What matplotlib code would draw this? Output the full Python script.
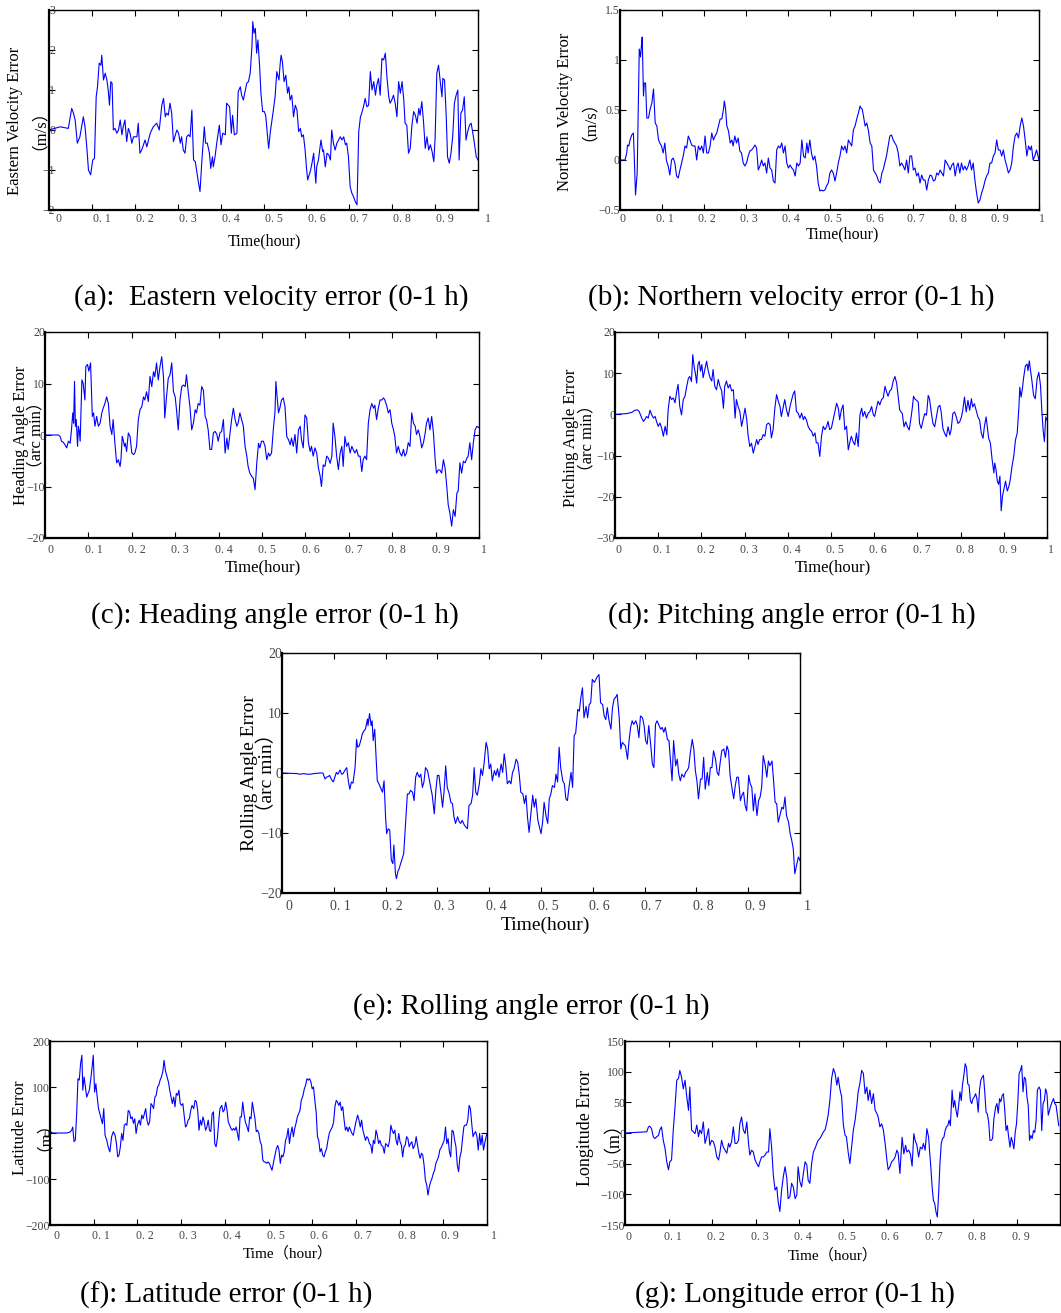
import numpy as np
import matplotlib
matplotlib.use("Agg")
import matplotlib.pyplot as plt
from matplotlib.transforms import ScaledTranslation

# Serif text, CJK font only for the full-width brackets
plt.rcParams['font.family'] = ['Liberation Serif', 'Noto Sans CJK SC', 'DejaVu Sans']

# ---------------- data: (time in hours, error) ----------------
# (a) eastern velocity error, m/s
a_pts = [(0, 0.0), (0.026, 0.08), (0.045, 0.04), (0.053, 0.54), (0.057, 0.42), (0.061, 0.25), (0.066, -0.33),
         (0.072, -0.17), (0.076, 0.08), (0.080, 0.33), (0.084, 0.08), (0.088, -0.42), (0.092, -1.0), (0.097, -1.12),
         (0.102, -0.75), (0.106, -0.71), (0.110, 0.83), (0.113, 1.08), (0.117, 1.67), (0.121, 1.62), (0.123, 1.87),
         (0.127, 1.25), (0.131, 1.42), (0.135, 1.25), (0.138, 1.0), (0.141, 0.62), (0.144, 1.21), (0.147, 1.17),
         (0.150, 0.0), (0.154, 0.04), (0.158, -0.08), (0.162, 0.0), (0.166, 0.25), (0.170, -0.12), (0.173, 0.08),
         (0.177, 0.25), (0.181, -0.29), (0.185, 0.04), (0.189, -0.08), (0.193, -0.33), (0.197, -0.17), (0.205, -0.17),
         (0.208, 0.17), (0.212, -0.58), (0.216, -0.5), (0.224, -0.25), (0.228, -0.42), (0.236, -0.08), (0.243, 0.08),
         (0.251, 0.17), (0.257, 0.0), (0.263, 0.62), (0.267, 0.79), (0.271, 0.33), (0.274, 0.42), (0.278, 0.37),
         (0.282, 0.67), (0.286, 0.42), (0.290, -0.29), (0.298, 0.0), (0.302, -0.08), (0.306, -0.33), (0.309, -0.17),
         (0.313, -0.5), (0.317, -0.58), (0.321, -0.17), (0.325, -0.12), (0.329, -0.17), (0.333, 0.5), (0.337, -0.75),
         (0.341, -0.79), (0.344, -1.0), (0.348, -1.29), (0.352, -1.54), (0.356, -0.83), (0.362, 0.08), (0.365, -0.33),
         (0.369, -0.33), (0.374, -0.58), (0.377, -0.96), (0.381, -0.67), (0.383, -0.92), (0.387, -0.67), (0.391, -0.33),
         (0.397, 0.12), (0.401, -0.37), (0.405, -0.08), (0.411, -0.12), (0.414, 0.67), (0.421, 0.58), (0.425, -0.08),
         (0.428, 0.37), (0.432, -0.12), (0.438, -0.08), (0.441, 0.96), (0.446, 1.08), (0.449, 0.87), (0.453, 0.75),
         (0.457, 0.96), (0.461, 1.17), (0.465, 1.21), (0.469, 1.42), (0.473, 2.08), (0.475, 2.71), (0.478, 2.42),
         (0.481, 2.54), (0.484, 1.92), (0.487, 2.25), (0.491, 1.58), (0.494, 0.92), (0.498, 0.46), (0.502, 0.46),
         (0.505, 0.37), (0.512, -0.46), (0.516, -0.04), (0.522, 0.42), (0.527, 0.83), (0.531, 1.46), (0.536, 1.25),
         (0.539, 1.67), (0.541, 1.87), (0.544, 1.71), (0.548, 1.21), (0.552, 1.37), (0.556, 0.92), (0.559, 1.08),
         (0.562, 0.75), (0.566, 0.87), (0.570, 0.33), (0.574, 0.62), (0.578, 0.5), (0.582, -0.04), (0.586, 0.04),
         (0.589, -0.17), (0.593, -0.12), (0.597, -0.5), (0.600, -0.92), (0.603, -1.25), (0.605, -1.17), (0.609, -1.04),
         (0.613, -0.83), (0.617, -0.58), (0.619, -0.92), (0.622, -1.33), (0.624, -0.92), (0.628, -0.75), (0.634, -0.25),
         (0.638, -0.54), (0.640, -0.5), (0.644, -0.92), (0.648, -0.58), (0.652, -0.62), (0.656, -0.75), (0.659, 0.0),
         (0.663, -0.33), (0.667, -0.5), (0.671, -0.33), (0.675, -0.25), (0.679, -0.17), (0.683, -0.25), (0.687, -0.17),
         (0.691, -0.37), (0.694, -0.33), (0.698, -0.67), (0.702, -1.42), (0.706, -1.58), (0.710, -1.67), (0.714, -1.79),
         (0.718, -1.87), (0.722, -0.04), (0.726, 0.33), (0.729, 0.42), (0.733, 0.58), (0.737, 0.79), (0.741, 0.58),
         (0.745, 0.62), (0.749, 1.46), (0.753, 1.0), (0.757, 1.21), (0.761, 0.87), (0.764, 1.12), (0.768, 1.29),
         (0.772, 0.87), (0.776, 1.79), (0.780, 1.75), (0.784, 1.92), (0.788, 1.29), (0.792, 0.83), (0.795, 0.67),
         (0.799, 0.75), (0.803, 0.87), (0.807, 0.67), (0.811, 0.33), (0.815, 1.21), (0.819, 0.92), (0.823, 1.21),
         (0.827, 0.75), (0.830, 0.17), (0.834, 0.12), (0.838, -0.58), (0.842, -0.46), (0.846, 0.12), (0.850, 0.46),
         (0.854, 0.37), (0.858, 0.17), (0.862, 0.54), (0.865, 0.37), (0.869, 0.71), (0.873, 0.21), (0.877, -0.46),
         (0.881, -0.17), (0.885, -0.5), (0.889, -0.37), (0.893, -0.54), (0.897, -0.79), (0.900, -0.21), (0.904, 1.42),
         (0.908, 1.62), (0.912, 1.21), (0.916, 0.83), (0.918, 1.29), (0.922, 1.25), (0.926, 0.33), (0.929, -0.67),
         (0.933, -0.83), (0.937, -0.58), (0.941, -0.17), (0.945, 0.67), (0.949, 0.87), (0.953, 1.0), (0.956, -0.75),
         (0.960, 0.42), (0.964, 0.5), (0.968, 0.83), (0.972, -0.25), (0.976, -0.04), (0.980, 0.12), (0.984, 0.17),
         (0.988, -0.08), (0.991, -0.29), (0.996, -0.67), (1.0, -0.75)]

# (b) northern velocity error, m/s
b_pts = [(0, 0.0), (0.012, 0.0), (0.016, 0.07), (0.018, 0.15), (0.021, 0.14), (0.024, 0.2), (0.028, 0.25),
         (0.032, 0.27), (0.034, 0.04), (0.037, -0.35), (0.041, -0.13), (0.044, 0.61), (0.046, 1.11), (0.049, 1.03),
         (0.051, 1.14), (0.053, 1.23), (0.056, 0.64), (0.058, 0.77), (0.061, 0.77), (0.064, 0.42), (0.068, 0.42),
         (0.072, 0.51), (0.076, 0.57), (0.080, 0.71), (0.084, 0.37), (0.088, 0.34), (0.092, 0.2), (0.095, 0.17),
         (0.099, 0.14), (0.103, 0.07), (0.107, 0.17), (0.111, -0.01), (0.115, -0.06), (0.119, -0.15), (0.123, 0.0),
         (0.127, 0.02), (0.131, -0.03), (0.135, -0.16), (0.139, -0.18), (0.143, -0.1), (0.147, -0.03), (0.151, 0.04),
         (0.155, 0.14), (0.159, 0.12), (0.163, 0.24), (0.167, 0.2), (0.171, 0.15), (0.175, 0.14), (0.179, 0.14),
         (0.183, 0.0), (0.187, 0.14), (0.191, 0.1), (0.195, 0.14), (0.199, 0.07), (0.203, 0.24), (0.207, 0.07),
         (0.211, 0.07), (0.215, 0.14), (0.219, 0.27), (0.223, 0.2), (0.227, 0.24), (0.231, 0.27), (0.235, 0.34),
         (0.239, 0.41), (0.243, 0.41), (0.247, 0.51), (0.249, 0.59), (0.252, 0.51), (0.255, 0.34), (0.259, 0.29),
         (0.263, 0.17), (0.267, 0.2), (0.270, 0.14), (0.274, 0.24), (0.278, 0.17), (0.282, 0.22), (0.286, 0.09),
         (0.290, 0.07), (0.294, -0.03), (0.298, -0.06), (0.302, -0.03), (0.306, 0.04), (0.310, 0.09), (0.314, 0.1),
         (0.318, 0.12), (0.322, 0.15), (0.326, 0.12), (0.330, -0.1), (0.334, -0.06), (0.338, 0.0), (0.342, -0.06),
         (0.346, -0.03), (0.350, -0.13), (0.354, 0.02), (0.358, -0.08), (0.362, -0.1), (0.366, -0.21), (0.370, -0.23),
         (0.374, 0.1), (0.378, 0.14), (0.382, 0.12), (0.386, 0.17), (0.390, 0.07), (0.394, 0.14), (0.398, -0.03),
         (0.402, -0.08), (0.406, -0.05), (0.410, -0.08), (0.414, -0.1), (0.418, -0.16), (0.422, -0.03), (0.426, -0.06),
         (0.430, -0.03), (0.434, 0.2), (0.438, 0.04), (0.442, 0.02), (0.446, 0.17), (0.449, 0.07), (0.453, 0.2),
         (0.457, 0.07), (0.461, 0.0), (0.465, 0.04), (0.469, -0.06), (0.473, -0.23), (0.477, -0.31), (0.481, -0.3),
         (0.485, -0.31), (0.489, -0.3), (0.493, -0.26), (0.497, -0.23), (0.501, -0.13), (0.505, -0.1), (0.509, -0.13),
         (0.513, -0.21), (0.517, -0.13), (0.521, -0.03), (0.525, 0.04), (0.529, 0.14), (0.533, 0.1), (0.537, 0.14),
         (0.541, 0.07), (0.545, 0.2), (0.549, 0.17), (0.553, 0.14), (0.557, 0.3), (0.561, 0.34), (0.565, 0.41),
         (0.569, 0.47), (0.573, 0.54), (0.575, 0.52), (0.578, 0.51), (0.581, 0.44), (0.585, 0.34), (0.589, 0.37),
         (0.593, 0.29), (0.597, 0.17), (0.601, 0.14), (0.605, -0.1), (0.609, -0.13), (0.613, -0.16), (0.617, -0.21),
         (0.621, -0.23), (0.625, -0.13), (0.628, -0.1), (0.632, -0.03), (0.636, 0.04), (0.640, 0.14), (0.644, 0.24),
         (0.648, 0.25), (0.652, 0.2), (0.656, 0.17), (0.660, 0.14), (0.664, 0.07), (0.668, -0.06), (0.672, -0.03),
         (0.676, -0.06), (0.680, -0.1), (0.684, 0.0), (0.688, -0.13), (0.692, 0.04), (0.696, 0.04), (0.700, -0.1),
         (0.704, -0.08), (0.708, -0.16), (0.712, -0.13), (0.716, -0.23), (0.720, -0.15), (0.724, -0.2), (0.728, -0.2),
         (0.732, -0.3), (0.736, -0.2), (0.740, -0.15), (0.744, -0.16), (0.748, -0.21), (0.752, -0.2), (0.756, -0.13),
         (0.760, -0.15), (0.764, -0.1), (0.768, -0.13), (0.772, -0.16), (0.776, 0.0), (0.780, -0.03), (0.784, -0.06),
         (0.788, -0.1), (0.792, -0.05), (0.796, -0.03), (0.800, -0.16), (0.804, -0.06), (0.807, -0.03), (0.811, -0.13),
         (0.815, -0.03), (0.819, -0.1), (0.823, -0.06), (0.827, -0.1), (0.831, -0.06), (0.835, 0.0), (0.839, -0.1),
         (0.843, -0.03), (0.847, -0.2), (0.851, -0.33), (0.855, -0.43), (0.859, -0.4), (0.863, -0.33), (0.867, -0.28),
         (0.871, -0.21), (0.875, -0.16), (0.879, -0.13), (0.883, -0.03), (0.887, -0.03), (0.891, 0.04), (0.895, 0.07),
         (0.899, 0.2), (0.903, 0.1), (0.907, 0.1), (0.911, 0.04), (0.915, 0.1), (0.919, 0.0), (0.923, -0.06),
         (0.927, -0.13), (0.931, -0.1), (0.935, -0.03), (0.939, 0.14), (0.943, 0.24), (0.947, 0.27), (0.951, 0.22),
         (0.955, 0.34), (0.959, 0.42), (0.963, 0.34), (0.967, 0.2), (0.971, 0.04), (0.975, 0.14), (0.979, 0.1),
         (0.982, 0.14), (0.986, 0.0), (0.990, 0.04), (0.994, 0.1), (1.0, 0.0)]

# (c) heading angle error, arc min
c_pts = [(0, 0), (0.031, 0), (0.035, -0.3), (0.038, -1.2), (0.042, -1.4), (0.046, -1.9), (0.050, -2.5), (0.054, -1.2),
         (0.058, -1.6), (0.061, 1.0), (0.064, 4.3), (0.066, 2.3), (0.068, 10.4), (0.070, 1.7), (0.072, 3.0),
         (0.075, -2.2), (0.077, 1.7), (0.079, 0.7), (0.081, -1.2), (0.085, 10.7), (0.088, 10.0), (0.092, 6.8),
         (0.094, 13.3), (0.098, 13.7), (0.101, 12.4), (0.105, 14.0), (0.109, 3.6), (0.112, 4.3), (0.115, 1.7),
         (0.119, 3.6), (0.123, 1.7), (0.127, 2.3), (0.131, 4.3), (0.134, 5.2), (0.138, 6.1), (0.142, 7.4), (0.146, 6.1),
         (0.150, 1.7), (0.154, 0.1), (0.157, 3.0), (0.161, -1.5), (0.165, -5.4), (0.169, -4.8), (0.173, -6.1),
         (0.175, -4.8), (0.178, -0.3), (0.180, -0.9), (0.183, -2.2), (0.185, -1.6), (0.188, -3.2), (0.192, 0.4),
         (0.196, -0.3), (0.200, -3.5), (0.204, -3.8), (0.207, -3.5), (0.211, -2.2), (0.215, 3.0), (0.219, 4.9),
         (0.223, 5.5), (0.227, 7.4), (0.230, 6.8), (0.234, 8.4), (0.238, 6.5), (0.242, 11.4), (0.246, 9.4), (0.250, 12.3),
         (0.253, 11.3), (0.257, 14.0), (0.261, 10.7), (0.265, 13.3), (0.269, 15.2), (0.273, 11.3), (0.276, 3.3),
         (0.280, 7.4), (0.284, 11.0), (0.288, 11.7), (0.292, 14.0), (0.296, 8.4), (0.300, 7.4), (0.303, 4.9),
         (0.307, 1.0), (0.311, 6.8), (0.315, 9.4), (0.319, 9.7), (0.323, 9.4), (0.326, 11.7), (0.330, 8.4), (0.334, 5.5),
         (0.338, 1.0), (0.342, 2.3), (0.346, 4.9), (0.349, 4.3), (0.353, 6.1), (0.357, 5.8), (0.361, 9.4), (0.365, 8.7),
         (0.369, 3.6), (0.372, 3.0), (0.376, 1.0), (0.380, -2.8), (0.384, -2.8), (0.388, 0.4), (0.392, 0.7),
         (0.396, 0.1), (0.399, -1.2), (0.403, 0.4), (0.407, 0.7), (0.411, 3.0), (0.415, -3.5), (0.419, -0.6),
         (0.422, -2.8), (0.426, 0.1), (0.430, 3.0), (0.434, 5.2), (0.438, 3.0), (0.442, 1.7), (0.445, 2.3), (0.449, 4.3),
         (0.453, 3.0), (0.457, 1.7), (0.461, -2.2), (0.465, -4.1), (0.468, -6.1), (0.472, -7.4), (0.476, -8.0),
         (0.480, -8.4), (0.484, -10.6), (0.488, -5.4), (0.492, -1.6), (0.495, -2.5), (0.499, -1.2), (0.503, -1.2),
         (0.507, -2.2), (0.511, -4.8), (0.515, -3.5), (0.518, -4.1), (0.522, -3.5), (0.526, 1.0), (0.530, 4.6),
         (0.532, 10.4), (0.535, 7.2), (0.538, 4.3), (0.541, 5.2), (0.545, 6.8), (0.549, 7.2), (0.553, 5.5),
         (0.557, -0.3), (0.561, -0.9), (0.565, -1.9), (0.568, -0.6), (0.572, -2.2), (0.576, 0.1), (0.580, -3.5),
         (0.584, 1.0), (0.588, 1.7), (0.591, -0.9), (0.595, -2.5), (0.599, 3.9), (0.603, 3.3), (0.607, -1.5),
         (0.611, -3.2), (0.614, -2.2), (0.618, -4.1), (0.622, -2.5), (0.626, -3.5), (0.630, -6.4), (0.634, -8.0),
         (0.637, -10.0), (0.641, -5.8), (0.645, -6.1), (0.649, -4.1), (0.653, -4.5), (0.657, -5.5), (0.661, -4.1),
         (0.664, 2.3), (0.668, -0.3), (0.672, -4.1), (0.676, -6.7), (0.680, -3.5), (0.684, -2.2), (0.687, -6.1),
         (0.691, -0.3), (0.695, -2.2), (0.699, -1.5), (0.703, -3.5), (0.707, -2.2), (0.710, -2.8), (0.714, -3.5),
         (0.718, -2.8), (0.722, -4.1), (0.726, -4.1), (0.730, -7.1), (0.733, -4.8), (0.737, -4.1), (0.741, -4.8),
         (0.745, 2.3), (0.749, 4.9), (0.753, 6.1), (0.757, 5.2), (0.760, 5.8), (0.764, 3.0), (0.768, 5.2), (0.772, 6.8),
         (0.776, 6.8), (0.780, 7.2), (0.783, 6.8), (0.787, 5.8), (0.791, 4.3), (0.795, 4.9), (0.799, 2.3), (0.803, 1.0),
         (0.806, -0.3), (0.810, -3.5), (0.814, -2.2), (0.818, -3.5), (0.822, -4.1), (0.826, -2.8), (0.829, -4.1),
         (0.833, -3.5), (0.837, -1.5), (0.841, -2.2), (0.845, 4.3), (0.849, 2.3), (0.853, 1.7), (0.856, 0.1),
         (0.860, 1.0), (0.864, -0.3), (0.868, -2.5), (0.872, -1.5), (0.876, 0.4), (0.879, 2.3), (0.883, 3.3),
         (0.887, 1.0), (0.891, 3.6), (0.895, 0.4), (0.899, -4.8), (0.902, -7.4), (0.906, -6.8), (0.910, -6.8),
         (0.914, -7.4), (0.918, -4.8), (0.922, -6.5), (0.926, -10.3), (0.929, -13.5), (0.933, -15.2), (0.937, -17.7),
         (0.941, -14.5), (0.945, -15.8), (0.949, -11.3), (0.952, -10.9), (0.956, -5.4), (0.960, -7.4), (0.964, -5.1),
         (0.968, -5.4), (0.972, -4.5), (0.975, -4.1), (0.979, -1.5), (0.983, -4.8), (0.987, -1.5), (0.991, 1.0),
         (0.995, 1.7), (1.0, 1.4)]

# (d) pitching angle error, arc min
d_pts = [(0, 0), (0.027, 0.2), (0.039, 0.5), (0.046, 1.0), (0.052, 1.1), (0.056, 0.7), (0.059, -0.1), (0.062, -0.9),
         (0.066, -1.7), (0.069, -1.3), (0.073, -0.5), (0.077, -0.9), (0.081, 1.0), (0.085, -0.1), (0.089, -0.9),
         (0.093, -0.5), (0.096, -1.7), (0.100, -2.9), (0.104, -2.1), (0.108, -3.3), (0.112, -5.3), (0.116, -2.9),
         (0.120, -5.0), (0.123, 1.1), (0.127, 4.4), (0.131, 3.6), (0.135, 4.0), (0.139, 2.8), (0.143, 5.7), (0.146, 7.3),
         (0.150, 1.9), (0.154, -0.1), (0.158, 3.6), (0.162, 4.4), (0.166, 6.8), (0.170, 8.8), (0.173, 9.2), (0.177, 8.0),
         (0.180, 14.5), (0.183, 11.7), (0.186, 10.0), (0.189, 7.6), (0.192, 12.1), (0.195, 12.9), (0.198, 10.5),
         (0.201, 12.1), (0.204, 8.9), (0.208, 10.9), (0.212, 12.9), (0.216, 10.5), (0.220, 8.9), (0.224, 8.1),
         (0.227, 10.9), (0.231, 6.8), (0.235, 6.0), (0.239, 8.5), (0.243, 6.8), (0.247, 5.7), (0.251, 1.5), (0.254, 6.8),
         (0.258, 8.1), (0.262, 6.4), (0.266, 7.3), (0.270, 5.7), (0.274, 6.0), (0.278, -0.9), (0.281, 3.6), (0.285, 1.9),
         (0.289, 0.7), (0.293, -2.9), (0.297, -0.9), (0.301, 1.5), (0.305, -1.3), (0.308, -5.0), (0.312, -7.8),
         (0.316, -7.0), (0.320, -9.4), (0.324, -7.8), (0.328, -6.1), (0.331, -7.3), (0.335, -6.1), (0.339, -6.1),
         (0.343, -4.9), (0.347, -5.3), (0.351, -2.5), (0.355, -2.1), (0.359, -2.5), (0.362, -5.7), (0.366, -3.7),
         (0.370, 1.5), (0.374, 4.8), (0.378, 3.2), (0.382, 1.9), (0.385, -0.5), (0.389, 1.5), (0.393, 3.6), (0.397, 1.1),
         (0.401, -0.5), (0.405, 1.9), (0.409, 3.6), (0.412, 4.8), (0.416, 5.7), (0.420, 0.7), (0.424, 0.3), (0.428, -0.9),
         (0.432, 0.3), (0.436, -1.3), (0.439, -0.5), (0.443, -1.3), (0.447, -2.9), (0.451, -3.7), (0.455, -4.1),
         (0.459, -5.3), (0.463, -4.5), (0.466, -6.9), (0.470, -6.9), (0.474, -10.2), (0.478, -5.3), (0.482, -2.9),
         (0.486, -3.7), (0.490, -2.9), (0.493, -1.7), (0.497, -3.7), (0.501, -3.3), (0.505, -1.3), (0.509, 0.7),
         (0.513, 2.7), (0.517, 1.5), (0.520, -1.3), (0.524, 1.1), (0.528, 2.3), (0.532, -3.7), (0.536, -2.9),
         (0.540, -8.6), (0.544, -6.6), (0.547, -5.3), (0.551, -6.6), (0.555, -7.4), (0.559, -4.5), (0.563, -7.8),
         (0.567, -0.1), (0.571, 1.5), (0.574, -0.5), (0.578, 0.7), (0.582, -0.9), (0.586, 0.3), (0.590, 0.7),
         (0.594, 1.9), (0.598, -0.1), (0.601, -0.5), (0.605, 1.5), (0.609, 3.2), (0.613, 2.3), (0.617, 3.6),
         (0.621, 4.0), (0.625, 6.8), (0.628, 5.7), (0.632, 4.4), (0.636, 5.7), (0.640, 6.1), (0.644, 8.1), (0.648, 9.2),
         (0.652, 7.6), (0.655, 4.8), (0.659, 1.1), (0.665, 0.2), (0.669, -3.0), (0.673, -1.8), (0.677, -3.0),
         (0.681, -3.8), (0.685, -1.0), (0.688, 1.4), (0.691, 4.4), (0.694, 3.8), (0.698, 3.4), (0.702, 3.0),
         (0.705, -2.2), (0.709, -3.4), (0.713, -1.4), (0.717, 0.2), (0.721, -0.2), (0.725, 4.6), (0.728, 3.8),
         (0.732, 0.6), (0.736, -2.2), (0.740, -3.0), (0.744, -0.6), (0.748, 1.8), (0.752, 2.2), (0.755, 0.6),
         (0.759, -3.4), (0.763, -4.6), (0.767, -5.4), (0.771, -3.0), (0.775, -5.0), (0.778, -3.8), (0.782, 0.2),
         (0.786, 0.6), (0.790, -0.6), (0.794, -2.2), (0.798, -1.8), (0.802, -0.6), (0.805, 1.0), (0.809, 4.2),
         (0.813, 0.6), (0.817, 3.4), (0.821, 1.0), (0.825, 3.8), (0.828, 1.8), (0.832, 2.6), (0.836, 1.0), (0.840, -0.6),
         (0.844, -1.4), (0.848, -4.6), (0.852, -5.8), (0.855, -3.0), (0.859, -0.6), (0.863, -4.2), (0.865, -5.8),
         (0.869, -7.0), (0.873, -11.0), (0.877, -14.2), (0.879, -11.8), (0.882, -13.4), (0.885, -16.2), (0.888, -17.0),
         (0.891, -15.0), (0.894, -23.4), (0.897, -19.8), (0.900, -18.2), (0.904, -16.2), (0.908, -18.6), (0.912, -17.4),
         (0.915, -15.8), (0.919, -12.6), (0.923, -10.2), (0.927, -6.2), (0.931, -4.6), (0.935, 1.8), (0.937, 6.6),
         (0.940, 4.2), (0.943, 6.2), (0.946, 9.0), (0.950, 11.8), (0.954, 12.2), (0.956, 10.6), (0.959, 13.0),
         (0.962, 10.6), (0.965, 8.2), (0.969, 4.6), (0.973, 3.8), (0.977, 8.6), (0.981, 10.2), (0.985, 7.0),
         (0.988, 1.0), (0.991, -3.8), (0.994, -6.6), (0.997, -0.6), (1.0, -1.4)]

# (e) rolling angle error, arc min
e_pts = [(0, 0), (0.029, -0.1), (0.035, -0.2), (0.042, -0.1), (0.048, -0.2), (0.055, -0.2), (0.061, -0.1), (0.074, 0),
         (0.079, 0), (0.083, -1.0), (0.086, -0.7), (0.089, -0.6), (0.092, -0.4), (0.095, -1.0), (0.099, -1.5),
         (0.102, -0.7), (0.105, 0.1), (0.108, -0.2), (0.112, 0.5), (0.115, -0.2), (0.118, -0.1), (0.121, 0.4),
         (0.125, 0.9), (0.128, -1.3), (0.131, -2.7), (0.134, -1.5), (0.137, -1.7), (0.141, 0.9), (0.144, 5.6),
         (0.146, 4.3), (0.149, 4.5), (0.152, 5.4), (0.155, 6.5), (0.158, 7.0), (0.161, 7.3), (0.165, 9.0), (0.166, 7.9),
         (0.169, 9.9), (0.172, 7.9), (0.174, 8.7), (0.176, 5.4), (0.179, 7.3), (0.181, 3.7), (0.184, -1.3),
         (0.187, -1.8), (0.190, -2.4), (0.194, -3.2), (0.197, -1.3), (0.200, -7.4), (0.202, -10.1), (0.205, -9.3),
         (0.208, -9.5), (0.211, -14.5), (0.214, -15.1), (0.216, -12.0), (0.219, -16.8), (0.221, -17.6), (0.224, -16.3),
         (0.226, -16.0), (0.229, -15.1), (0.232, -14.3), (0.235, -13.4), (0.239, -7.9), (0.242, -3.5), (0.245, -3.5),
         (0.248, -2.9), (0.252, -3.2), (0.255, -4.6), (0.258, -0.7), (0.261, 0.1), (0.265, -0.7), (0.268, -0.2),
         (0.271, -2.4), (0.274, -1.5), (0.277, 0.9), (0.281, 0.4), (0.284, -1.0), (0.287, -2.4), (0.290, -3.7),
         (0.294, -6.8), (0.297, -2.9), (0.300, -0.4), (0.303, -0.4), (0.306, -2.7), (0.310, -5.7), (0.313, -2.9),
         (0.316, 1.2), (0.319, -2.4), (0.323, -3.5), (0.326, -4.9), (0.329, -5.1), (0.332, -7.3), (0.335, -8.4),
         (0.339, -7.3), (0.342, -8.1), (0.345, -8.4), (0.348, -7.9), (0.352, -8.7), (0.355, -9.0), (0.358, -9.3),
         (0.361, -5.4), (0.365, -5.1), (0.368, -3.7), (0.371, 0.9), (0.374, -3.2), (0.377, -3.7), (0.381, -1.8),
         (0.384, 0.7), (0.387, -0.4), (0.390, 1.5), (0.394, 5.1), (0.397, 4.0), (0.400, 0.7), (0.403, 1.5),
         (0.406, -1.3), (0.410, 0.4), (0.413, -0.4), (0.416, 0.7), (0.419, -0.7), (0.423, 1.5), (0.426, 0.1),
         (0.429, 3.2), (0.432, 1.2), (0.435, -1.8), (0.439, -1.3), (0.442, -1.8), (0.445, 0.1), (0.448, 0.7),
         (0.452, 2.3), (0.455, 1.8), (0.458, -0.2), (0.461, -3.2), (0.465, -3.5), (0.468, -5.1), (0.471, -3.7),
         (0.474, -7.4), (0.477, -9.9), (0.481, -6.3), (0.484, -3.7), (0.487, -5.7), (0.490, -4.3), (0.494, -7.9),
         (0.497, -9.0), (0.500, -10.1), (0.503, -8.3), (0.506, -4.9), (0.510, -7.3), (0.513, -8.4), (0.516, -4.3),
         (0.519, -3.5), (0.522, -2.1), (0.526, -2.4), (0.529, -0.2), (0.532, -1.5), (0.535, 4.3), (0.538, 0.9),
         (0.542, -1.3), (0.545, -1.8), (0.548, -4.3), (0.551, -4.6), (0.554, -2.4), (0.558, 0.1), (0.561, -2.4),
         (0.564, 6.2), (0.567, 6.7), (0.571, 10.6), (0.574, 10.3), (0.577, 12.6), (0.580, 14.2), (0.583, 9.2),
         (0.587, 11.1), (0.590, 9.2), (0.593, 11.4), (0.596, 11.7), (0.599, 15.6), (0.603, 15.1), (0.606, 15.6),
         (0.609, 16.1), (0.612, 16.4), (0.615, 11.7), (0.619, 11.4), (0.622, 9.5), (0.625, 8.9), (0.628, 10.9),
         (0.631, 8.9), (0.635, 7.3), (0.638, 10.9), (0.641, 12.3), (0.644, 12.6), (0.647, 13.1), (0.651, 9.2),
         (0.654, 4.0), (0.657, 5.1), (0.660, 4.8), (0.663, 4.5), (0.667, 2.3), (0.670, 5.4), (0.673, 7.6), (0.676, 8.7),
         (0.679, 8.1), (0.683, 8.7), (0.686, 7.9), (0.689, 5.9), (0.692, 9.5), (0.696, 9.2), (0.699, 7.9), (0.702, 5.4),
         (0.705, 4.8), (0.708, 7.9), (0.712, 4.5), (0.715, 1.5), (0.718, 0.9), (0.721, 8.1), (0.724, 8.7), (0.728, 7.9),
         (0.731, 7.3), (0.734, 7.6), (0.737, 6.8), (0.740, 7.6), (0.744, 5.6), (0.747, 5.4), (0.750, 2.0),
         (0.753, -1.3), (0.756, 5.4), (0.760, 1.2), (0.763, 2.3), (0.766, -0.2), (0.769, -1.3), (0.772, -0.2),
         (0.776, -0.7), (0.779, 0.1), (0.782, 0.4), (0.785, 0.9), (0.788, 3.2), (0.792, 5.6), (0.795, 4.0), (0.798, 0.4),
         (0.801, -1.3), (0.804, -4.3), (0.808, -1.0), (0.811, -1.0), (0.814, 2.6), (0.817, -2.7), (0.821, 0.1),
         (0.824, -2.1), (0.827, 0.9), (0.830, 0.9), (0.833, 3.7), (0.837, 2.3), (0.840, 0.1), (0.843, -0.4),
         (0.846, 1.8), (0.849, 3.7), (0.853, 4.0), (0.856, 2.6), (0.859, 4.5), (0.862, 3.7), (0.865, -0.4),
         (0.869, -2.7), (0.872, -4.3), (0.875, -2.1), (0.878, -0.7), (0.881, -0.7), (0.885, -4.6), (0.888, -3.7),
         (0.891, -3.2), (0.894, -5.4), (0.897, -6.3), (0.901, -0.4), (0.904, -1.8), (0.907, -2.4), (0.910, -6.3),
         (0.913, -3.5), (0.917, -7.1), (0.920, -4.6), (0.923, -4.0), (0.926, -2.4), (0.929, 2.9), (0.933, 1.2),
         (0.936, -0.7), (0.939, 2.0), (0.942, 1.2), (0.946, 2.0), (0.949, -1.3), (0.952, -4.9), (0.955, -5.1),
         (0.958, -8.2), (0.962, -6.8), (0.965, -5.7), (0.968, -6.0), (0.971, -4.0), (0.974, -7.1), (0.978, -8.2),
         (0.981, -10.1), (0.984, -11.2), (0.987, -12.6), (0.990, -16.8), (0.994, -15.1), (0.997, -14.0), (1.0, -14.6)]

# (f) latitude error, m
f_pts = [(0, 0), (0.038, 0), (0.046, 2), (0.050, 7), (0.052, 13), (0.055, -19), (0.058, -15), (0.061, 42), (0.064, 118),
         (0.067, 115), (0.070, 151), (0.073, 169), (0.075, 93), (0.078, 122), (0.081, 100), (0.084, 78), (0.087, 86),
         (0.090, 93), (0.093, 115), (0.096, 140), (0.099, 169), (0.102, 89), (0.105, 107), (0.108, 78), (0.111, 53),
         (0.114, 42), (0.117, 31), (0.120, 20), (0.123, 53), (0.126, -5), (0.130, -16), (0.133, -30), (0.137, -41),
         (0.141, -8), (0.145, 3), (0.149, -5), (0.152, -23), (0.155, -52), (0.158, -48), (0.161, -30), (0.164, -1),
         (0.167, -16), (0.170, 17), (0.173, 20), (0.176, 17), (0.179, 49), (0.182, 46), (0.185, 31), (0.188, 35),
         (0.191, 21), (0.194, 31), (0.197, -1), (0.200, 17), (0.204, 28), (0.207, 17), (0.210, 39), (0.213, 31),
         (0.216, 42), (0.219, 53), (0.222, 28), (0.225, 17), (0.228, 24), (0.231, 64), (0.234, 60), (0.237, 53),
         (0.240, 78), (0.243, 82), (0.246, 100), (0.249, 104), (0.252, 115), (0.255, 122), (0.258, 133), (0.261, 158),
         (0.264, 136), (0.268, 122), (0.271, 111), (0.274, 93), (0.277, 78), (0.280, 64), (0.283, 78), (0.286, 57),
         (0.289, 86), (0.292, 82), (0.295, 93), (0.298, 64), (0.301, 60), (0.304, 64), (0.307, 39), (0.310, 13),
         (0.313, 17), (0.316, 28), (0.319, 31), (0.322, 49), (0.325, 60), (0.329, 53), (0.332, 71), (0.335, 68),
         (0.338, 49), (0.341, 6), (0.344, 28), (0.347, 17), (0.350, 35), (0.353, 24), (0.356, 6), (0.359, 13),
         (0.362, 28), (0.365, 6), (0.368, 3), (0.371, 42), (0.374, 46), (0.377, -23), (0.380, -30), (0.383, -12),
         (0.387, 35), (0.389, 53), (0.393, 60), (0.396, 46), (0.399, 50), (0.402, 67), (0.405, 50), (0.408, 24),
         (0.411, 17), (0.414, 10), (0.417, 6), (0.420, 10), (0.423, 6), (0.426, 13), (0.429, -1), (0.432, -16),
         (0.435, 35), (0.438, 35), (0.441, 67), (0.444, 42), (0.447, 24), (0.451, 13), (0.454, 3), (0.457, 35),
         (0.460, 31), (0.463, 67), (0.466, 49), (0.469, 31), (0.472, 3), (0.475, 6), (0.478, -1), (0.481, -19),
         (0.484, -26), (0.487, -59), (0.490, -63), (0.493, -63), (0.496, -66), (0.499, -63), (0.502, -66), (0.505, -74),
         (0.508, -81), (0.511, -66), (0.514, -52), (0.518, -34), (0.521, -27), (0.524, -37), (0.527, -66), (0.530, -48),
         (0.533, -52), (0.536, -41), (0.539, -16), (0.542, -8), (0.545, 10), (0.548, -23), (0.551, -1), (0.554, 13),
         (0.557, -8), (0.560, 10), (0.563, 21), (0.566, 35), (0.569, 42), (0.572, 49), (0.575, 71), (0.579, 82),
         (0.582, 96), (0.585, 104), (0.588, 118), (0.591, 115), (0.594, 118), (0.597, 111), (0.600, 96), (0.603, 100),
         (0.606, 71), (0.609, 46), (0.612, -8), (0.615, -16), (0.618, -41), (0.621, -34), (0.624, -48), (0.627, -52),
         (0.630, -41), (0.633, -34), (0.636, -16), (0.639, -1), (0.642, 6), (0.646, 13), (0.649, 24), (0.652, 57),
         (0.655, 71), (0.658, 67), (0.661, 60), (0.664, 67), (0.667, 49), (0.670, 57), (0.673, 28), (0.676, 6),
         (0.679, 13), (0.682, 3), (0.685, 13), (0.688, 6), (0.691, -1), (0.694, -5), (0.697, 10), (0.700, 24),
         (0.704, 39), (0.707, 28), (0.710, 13), (0.713, 28), (0.716, 6), (0.719, -5), (0.722, -16), (0.725, -8),
         (0.728, -12), (0.731, -23), (0.734, -26), (0.737, -44), (0.740, -16), (0.743, -23), (0.746, 6), (0.749, -5),
         (0.752, -23), (0.755, -16), (0.758, -26), (0.762, -30), (0.765, -44), (0.768, -23), (0.771, -26), (0.774, -30),
         (0.777, -16), (0.780, 17), (0.783, 6), (0.786, -1), (0.789, 6), (0.792, -16), (0.795, -26), (0.798, -1),
         (0.801, -19), (0.804, -26), (0.807, -52), (0.810, -30), (0.813, -26), (0.816, -8), (0.819, -12), (0.822, -30),
         (0.825, -23), (0.828, -19), (0.831, -34), (0.835, -26), (0.838, -8), (0.841, -26), (0.844, -44), (0.847, -55),
         (0.850, -44), (0.853, -48), (0.856, -70), (0.859, -102), (0.862, -113), (0.865, -135), (0.868, -117),
         (0.871, -106), (0.874, -99), (0.877, -88), (0.880, -81), (0.883, -66), (0.886, -59), (0.889, -52), (0.892, -37),
         (0.896, -30), (0.899, -23), (0.902, -16), (0.905, 13), (0.908, -23), (0.911, -12), (0.914, -41), (0.917, -52),
         (0.920, 6), (0.923, 3), (0.926, -16), (0.929, -30), (0.932, -70), (0.935, -84), (0.938, -52), (0.941, -41),
         (0.944, -12), (0.947, 13), (0.949, 17), (0.953, 17), (0.956, 28), (0.959, 60), (0.962, 53), (0.965, 21),
         (0.968, -8), (0.971, -1), (0.974, 3), (0.977, -8), (0.980, -37), (0.983, -1), (0.986, -26), (0.989, -5),
         (0.992, -37), (0.996, -16), (1.0, -1)]

# (g) longitude error, m
g_pts = [(0, 0), (0.050, 2), (0.054, 10), (0.057, 11), (0.061, 7), (0.065, -6), (0.069, -9), (0.073, -6), (0.077, -4),
         (0.080, 5), (0.084, 10), (0.088, -12), (0.092, -25), (0.096, -47), (0.100, -60), (0.103, -47), (0.107, -44),
         (0.111, 5), (0.115, 43), (0.119, 86), (0.123, 89), (0.126, 102), (0.130, 91), (0.134, 72), (0.138, 86),
         (0.142, 59), (0.146, 37), (0.149, 75), (0.153, 5), (0.157, 2), (0.161, -1), (0.165, 13), (0.169, -6),
         (0.172, 5), (0.176, -1), (0.180, 18), (0.184, -17), (0.188, -6), (0.192, 7), (0.195, -20), (0.199, -12),
         (0.203, -14), (0.207, -23), (0.211, -39), (0.215, -44), (0.218, -33), (0.222, -12), (0.226, -23), (0.230, -28),
         (0.234, -33), (0.238, -17), (0.241, -23), (0.245, -14), (0.249, 10), (0.253, -17), (0.257, -17), (0.261, -12),
         (0.264, 15), (0.268, 26), (0.272, 5), (0.276, -1), (0.280, 18), (0.284, -17), (0.287, -36), (0.291, -28),
         (0.295, -31), (0.299, -44), (0.303, -50), (0.307, -55), (0.310, -47), (0.314, -39), (0.318, -39), (0.322, -36),
         (0.326, -31), (0.330, -31), (0.333, 7), (0.337, -23), (0.341, -69), (0.345, -93), (0.349, -88), (0.352, -112),
         (0.356, -128), (0.360, -93), (0.364, -71), (0.368, -55), (0.372, -74), (0.375, -107), (0.379, -104),
         (0.383, -82), (0.387, -88), (0.391, -107), (0.395, -101), (0.398, -55), (0.402, -79), (0.406, -88),
         (0.410, -66), (0.414, -47), (0.418, -52), (0.421, -77), (0.425, -82), (0.429, -50), (0.433, -31), (0.437, -25),
         (0.441, -17), (0.444, -12), (0.448, -9), (0.452, -4), (0.456, 2), (0.460, 5), (0.464, 18), (0.467, 29),
         (0.471, 53), (0.475, 89), (0.479, 105), (0.483, 97), (0.487, 78), (0.490, 91), (0.494, 72), (0.498, 59),
         (0.502, 13), (0.506, -4), (0.509, -6), (0.513, -31), (0.517, -50), (0.521, -23), (0.525, 5), (0.529, 21),
         (0.533, 45), (0.536, 67), (0.540, 81), (0.544, 102), (0.548, 97), (0.552, 64), (0.556, 75), (0.559, 53),
         (0.563, 70), (0.567, 48), (0.571, 64), (0.575, 37), (0.579, 32), (0.582, 26), (0.586, 10), (0.590, 15),
         (0.594, 5), (0.598, -17), (0.602, -44), (0.605, -60), (0.609, -55), (0.613, -47), (0.617, -44), (0.621, -39),
         (0.625, -28), (0.628, -33), (0.632, -66), (0.637, -7), (0.641, -34), (0.645, -20), (0.648, -31), (0.652, -28),
         (0.656, -34), (0.660, -54), (0.664, -1), (0.667, -12), (0.671, -20), (0.675, -39), (0.679, -23), (0.683, -26),
         (0.686, -17), (0.690, -28), (0.694, 7), (0.698, -7), (0.700, -28), (0.703, -55), (0.706, -88), (0.709, -110),
         (0.712, -115), (0.715, -129), (0.718, -137), (0.721, -99), (0.724, -50), (0.727, -17), (0.730, -9),
         (0.733, -7), (0.736, 4), (0.739, 10), (0.742, 12), (0.745, 21), (0.748, 12), (0.752, 70), (0.755, 42),
         (0.758, 53), (0.761, 37), (0.764, 26), (0.767, 45), (0.770, 67), (0.773, 53), (0.776, 80), (0.779, 94),
         (0.782, 113), (0.785, 107), (0.788, 80), (0.791, 78), (0.794, 53), (0.797, 48), (0.800, 56), (0.803, 59),
         (0.806, 64), (0.809, 56), (0.812, 34), (0.815, 70), (0.818, 86), (0.821, 91), (0.824, 94), (0.827, 67),
         (0.830, 34), (0.833, 31), (0.836, 18), (0.839, -12), (0.842, -12), (0.845, -9), (0.848, 23), (0.852, 42),
         (0.855, 48), (0.858, 32), (0.861, 56), (0.864, 51), (0.867, 61), (0.870, 64), (0.873, 37), (0.876, 4),
         (0.879, 12), (0.882, -7), (0.885, -23), (0.888, -7), (0.891, -15), (0.894, -26), (0.897, 1), (0.900, 15),
         (0.903, 50), (0.906, 97), (0.909, 102), (0.912, 110), (0.915, 67), (0.918, 91), (0.921, 88), (0.924, 59),
         (0.927, 45), (0.930, -12), (0.933, -4), (0.936, -9), (0.939, 4), (0.942, 1), (0.945, 20), (0.948, 70),
         (0.952, 75), (0.955, 70), (0.958, 4), (0.961, 48), (0.964, 53), (0.967, 72), (0.970, 64), (0.973, 29),
         (0.976, 37), (0.979, 45), (0.982, 51), (0.985, 56), (0.988, 48), (0.991, 45), (0.994, 29), (0.997, 12)]

# y tick values of each panel
a_yticks = [-2, -1, 0, 1, 2, 3]
b_yticks = [-0.5, 0, 0.5, 1, 1.5]
c_yticks = [-20, -10, 0, 10, 20]
d_yticks = [-30, -20, -10, 0, 10, 20]
e_yticks = [-20, -10, 0, 10, 20]
f_yticks = [-200, -100, 0, 100, 200]
g_yticks = [-150, -100, -50, 0, 50, 100, 150]

x_ticks = [0, 0.1, 0.2, 0.3, 0.4, 0.5, 0.6, 0.7, 0.8, 0.9, 1]
x_ticklabels = ['0', '0. 1', '0. 2', '0. 3', '0. 4', '0. 5', '0. 6', '0. 7', '0. 8', '0. 9', '1']

y_labels = ['Eastern Velocity Error\n（m/s）', 'Northern Velocity Error\n（m/s）',
            'Heading Angle Error\n（arc min）', 'Pitching Angle Error\n（arc min）',
            'Rolling Angle Error\n（arc min）', 'Latitude Error\n（m）', 'Longitude Error\n（m）']
x_labels = ['Time(hour)'] * 5 + ['Time（hour）'] * 2
captions = ['(a):  Eastern velocity error (0-1 h)', '(b): Northern velocity error (0-1 h)',
            '(c): Heading angle error (0-1 h)', '(d): Pitching angle error (0-1 h)',
            '(e): Rolling angle error (0-1 h)', '(f): Latitude error (0-1 h)', '(g): Longitude error (0-1 h)']

# ---------------- layout (pixels of the 1061 x 1313 page) ----------------
W, H = 1061, 1313
fig = plt.figure(figsize=(W / 100, H / 100), dpi=100)


def box(x0, y0, x1, y1):
    return [x0 / W, 1 - y1 / H, (x1 - x0) / W, (y1 - y0) / H]


def fmt(v):
    return ('%g' % v).replace('-', '\u2212')


panels = [
    # pts, yticks, rect, ylabel pos, ylabel size, xlabel pos, xlabel size, tick size, x label shift px, x pad, y pad
    (a_pts, a_yticks, box(49, 10, 478, 210), (-0.060, 0.445), 12, (0.503, -0.155), 11.5, 8.5, 10, 2.5, -4.5),
    (b_pts, b_yticks, box(620, 10, 1039, 210), (-0.113, 0.49), 12, (0.53, -0.12), 11.5, 8.5, 3, 2.5, 0),
    (c_pts, c_yticks, box(45, 332, 479, 538), (-0.038, 0.5), 12, (0.502, -0.141), 12, 8.5, 5, 4, 0),
    (d_pts, d_yticks, box(615, 332, 1047, 538), (-0.083, 0.485), 12, (0.505, -0.141), 12, 8.5, 4, 4, 0),
    (e_pts, e_yticks, box(282, 653, 800, 893), (-0.045, 0.5), 14, (0.508, -0.133), 14, 10, 7, 5, 0),
    (f_pts, f_yticks, box(50, 1041, 487, 1225), (-0.051, 0.53), 12, (0.545, -0.152), 11, 8.5, 7, 3.5, 0),
    (g_pts, g_yticks, box(625, 1041, 1060, 1225), (-0.070, 0.527), 13, (0.478, -0.163), 11, 8.5, 4, 4, 0),
]
caption_pos = [(271, 298), (791, 298), (275, 616), (792, 616), (531, 1007), (226, 1295), (795, 1295)]

for i, (pts, yt, rect, ylp, yls, xlp, xls, tks, dx, xpad, ypad) in enumerate(panels):
    ax = fig.add_axes(rect)
    t, v = zip(*pts)
    ax.plot(t, v, color='#0000ff', lw=0.8)
    ax.set_xlim(0, 1)
    ax.set_ylim(yt[0], yt[-1])
    # the last panel is cut at the page edge, so its "1" label is not shown
    n_x = len(x_ticks) if i < 6 else len(x_ticks) - 1
    ax.set_xticks(x_ticks[:n_x])
    ax.set_xticklabels(x_ticklabels[:n_x])
    ax.set_yticks(yt)
    ax.set_yticklabels([fmt(y) for y in yt])
    ax.tick_params(direction='in', top=True, right=True, length=4, width=0.8,
                   labelsize=tks, labelcolor='#444444')
    ax.tick_params(axis='x', pad=xpad)
    ax.tick_params(axis='y', pad=ypad)
    shift = ScaledTranslation(dx / 100, 0, fig.dpi_scale_trans)
    for lab in ax.get_xticklabels():
        lab.set_transform(lab.get_transform() + shift)
    for side in ['left', 'bottom']:
        ax.spines[side].set_linewidth(1.6)
    for side in ['top', 'right']:
        ax.spines[side].set_linewidth(1.0)

    ax.set_ylabel(y_labels[i], fontsize=yls, va='center', ha='center', linespacing=1.0)
    ax.yaxis.set_label_coords(*ylp)
    ax.set_xlabel(x_labels[i], fontsize=xls, va='center')
    ax.xaxis.set_label_coords(*xlp)

    cx, cy = caption_pos[i]
    fig.text(cx / W, 1 - cy / H, captions[i], ha='center', va='center', fontsize=21)

fig.savefig('out.png', dpi=100)
